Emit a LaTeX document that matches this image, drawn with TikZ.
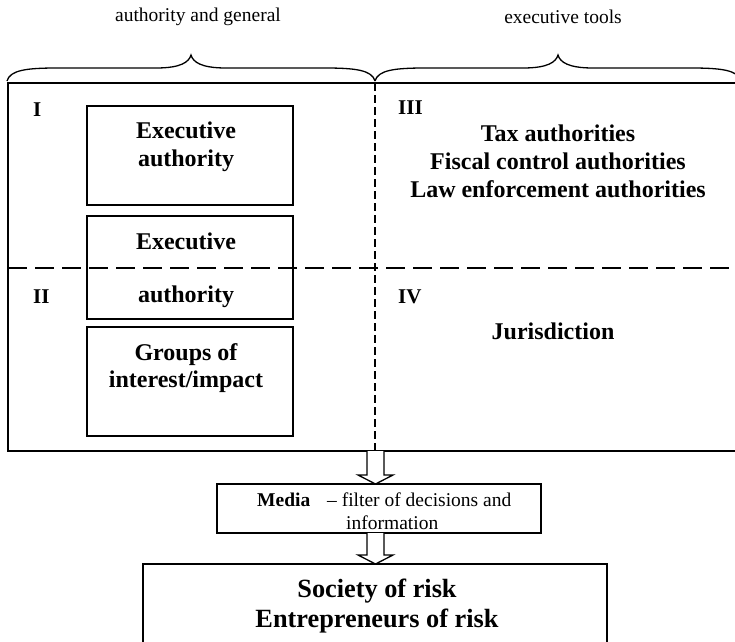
\documentclass[tikz,border=0pt]{standalone}
\usepackage{fontspec}
\setmainfont{Liberation Serif}
\usetikzlibrary{calc}
\tikzset{
  x=1pt, y=-1pt,
  frameline/.style={draw, line width=2.6pt, outer sep=0pt, inner sep=0pt},
  innerbox/.style={draw, line width=1.3pt, outer sep=0pt, inner sep=0pt, anchor=north west},
  boxtext/.style={font=\fontsize{24}{27.5}\selectfont\bfseries, align=center, inner sep=0pt},
  numtext/.style={font=\fontsize{21}{24}\selectfont\bfseries, inner sep=0pt, anchor=west},
  toptext/.style={font=\fontsize{19.5}{22}\selectfont, inner sep=0pt},
  mediatext/.style={font=\fontsize{19.5}{22}\selectfont, inner sep=0pt, anchor=base west},
  soctext/.style={font=\fontsize{26.3}{30}\selectfont\bfseries, align=center, inner sep=0pt},
  bracestyle/.style={line width=1.3pt},
  blockarr/.style={draw, fill=white, line width=1.3pt, line join=miter},
  vdash/.style={line width=1.4pt, dash pattern=on 8pt off 4pt},
  hdash/.style={line width=2.4pt, dash pattern=on 19pt off 8pt},
}
\newcommand\bracedraw[4]{% x1, xm, x2, y
  \draw[bracestyle] (#1,#4) .. controls (#1+3,#4-11) and (#1+20,#4-13) .. (#1+50,#4-13)
    -- (#2-35,#4-13) .. controls (#2-10,#4-13) and (#2-2,#4-19) .. (#2,#4-26)
    .. controls (#2+2,#4-19) and (#2+10,#4-13) .. (#2+35,#4-13)
    -- (#3-50,#4-13) .. controls (#3-20,#4-13) and (#3-3,#4-11) .. (#3,#4);
}
\newcommand\blockarrow[2]{% start coordinate, tip coordinate
  \draw[blockarr] ($(#1)+(-8.5,0)$) -- ($(#2)+(-8.5,-9)$) -- ($(#2)+(-17.5,-9)$) -- (#2)
    -- ($(#2)+(17.5,-9)$) -- ($(#2)+(8.5,-9)$) -- ($(#1)+(8.5,0)$);
}
\begin{document}
\begin{tikzpicture}
\useasboundingbox (0,0) rectangle (735,641);
% top labels and braces
\node[toptext] (lab1) at (198,17) {authority and general};
\node[toptext] (lab2) at (563,17) {executive tools};
\bracedraw{7}{191}{375}{81}
\bracedraw{375}{558}{741}{81}
% main frame
\node[frameline, minimum width=733pt, minimum height=368pt, anchor=north west] (frame) at (8,83) {};
\coordinate (ax) at (375.5,0);
\coordinate (vtop) at (375,83);
\coordinate (vbot) at (375,451);
\coordinate (hl) at (8,268);
\coordinate (hr) at (741,268);
\draw[vdash] (vtop) -- (vbot);
% inner boxes
\node[innerbox, minimum width=206pt, minimum height=99pt] (b1) at (87,106) {};
\node[innerbox, minimum width=206pt, minimum height=103pt] (b2) at (87,216) {};
\node[innerbox, minimum width=206pt, minimum height=109pt] (b3) at (87,327) {};
\draw[hdash] (hl) -- (hr);
\node[boxtext] (t1) at (186,147) {Executive\\authority};
\node[boxtext] (t2a) at (186,241) {Executive};
\node[boxtext] (t2b) at (186,297) {authority};
\node[boxtext] (t3) at (186,368) {Groups of\\interest/impact};
% quadrant numbers
\node[numtext] (n1) at (33,110) {I};
\node[numtext] (n2) at (33,297) {II};
\node[numtext] (n3) at (398,108) {III};
\node[numtext] (n4) at (398,297) {IV};
% right texts
\node[boxtext, font=\fontsize{24}{28}\selectfont\bfseries] (t4) at (558,161) {Tax authorities\\Fiscal control authorities\\Law enforcement authorities};
\node[boxtext] (t5) at (553,331) {Jurisdiction};
% media
\node[innerbox, minimum width=324pt, minimum height=49pt] (media) at (217,484) {};
\node[mediatext] (m1) at (257,506) {\textbf{Media}};
\node[mediatext] (m2) at (327,506) {– filter of decisions and};
\node[mediatext] (m3) at (346,529) {information};
% society
\node[innerbox, minimum width=464pt, minimum height=120pt] (soc) at (143,564) {};
\node[soctext] (s1) at (377,606) {Society of risk\\Entrepreneurs of risk};
% arrows
\blockarrow{frame.south -| ax}{media.north -| ax}
\blockarrow{media.south -| ax}{soc.north -| ax}
\end{tikzpicture}
\end{document}
